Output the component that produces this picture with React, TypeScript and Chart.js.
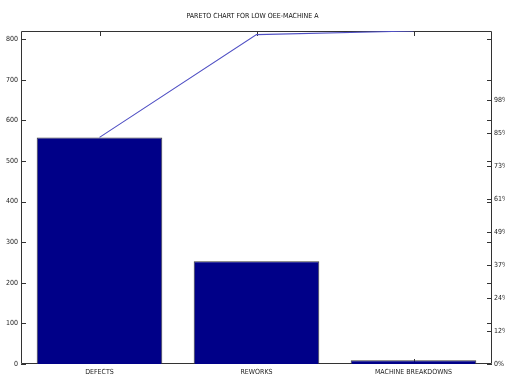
import React, { useEffect, useRef } from "react";
import { Chart, registerables } from "chart.js";

Chart.register(...registerables);

const categories = ["DEFECTS", "REWORKS", "MACHINE BREAKDOWNS"];
const counts = [558, 253, 9];
const cumulative = [558, 811, 820];
const countAxisMax = 820;
const countTicks = [0, 100, 200, 300, 400, 500, 600, 700, 800];
const pctAxisMax = 123;
const pctTickValues = [0, 12.2, 24.4, 36.6, 48.8, 61, 73.2, 85.4, 97.6];
const pctTickLabels = ["0%", "12%", "24%", "37%", "49%", "61%", "73%", "85%", "98%"];

const FONT = "'Liberation Sans Narrow', 'DejaVu Sans Condensed', 'Arial Narrow', sans-serif";
const AXIS_COLOR = "#333333";
const TICK_LEN = 5;

// Axes box with inward tick marks on all four sides, drawn beneath the data.
const boxTicks = {
  id: "boxTicks",
  beforeDatasetsDraw(chart: any) {
    const { ctx, chartArea: a, scales } = chart;
    const y = scales.y;
    const y2 = scales.y2;
    const x = scales.x;
    ctx.save();
    ctx.strokeStyle = AXIS_COLOR;
    ctx.lineWidth = 1;
    ctx.beginPath();
    ctx.rect(a.left + 0.5, a.top + 0.5, a.right - a.left - 1, a.bottom - a.top - 1);
    ctx.stroke();
    ctx.beginPath();
    for (const t of y.ticks) {
      const py = Math.round(y.getPixelForValue(t.value)) + 0.5;
      ctx.moveTo(a.left, py);
      ctx.lineTo(a.left + TICK_LEN, py);
      ctx.moveTo(a.right, py);
      ctx.lineTo(a.right - TICK_LEN, py);
    }
    for (const t of y2.ticks) {
      const py = Math.round(y2.getPixelForValue(t.value)) + 0.5;
      ctx.moveTo(a.right, py);
      ctx.lineTo(a.right - TICK_LEN, py);
    }
    x.ticks.forEach((_t: any, i: number) => {
      const px = Math.round(x.getPixelForTick(i)) + 0.5;
      ctx.moveTo(px, a.top);
      ctx.lineTo(px, a.top + TICK_LEN);
      ctx.moveTo(px, a.bottom);
      ctx.lineTo(px, a.bottom - TICK_LEN);
    });
    ctx.stroke();
    ctx.restore();
  },
};

export default function App() {
  const canvasRef = useRef<HTMLCanvasElement | null>(null);

  useEffect(() => {
    document.body.style.margin = "0";
    const canvas = canvasRef.current;
    if (!canvas) return;
    const chart = new Chart(canvas, {
      type: "bar",
      data: {
        labels: categories,
        datasets: [
          {
            type: "line",
            label: "Cumulative",
            data: cumulative,
            yAxisID: "y",
            borderColor: "#5050c4",
            borderWidth: 1.1,
            pointRadius: 0,
            fill: false,
            tension: 0,
            order: 0,
          } as any,
          {
            type: "bar",
            label: "Count",
            data: counts,
            yAxisID: "y",
            backgroundColor: "#000088",
            borderColor: "#3c3c3c",
            borderWidth: 1,
            categoryPercentage: 0.8,
            barPercentage: 1,
            order: 1,
          },
        ],
      },
      plugins: [boxTicks],
      options: {
        responsive: false,
        animation: false,
        layout: { padding: 0 },
        plugins: {
          legend: { display: false },
          tooltip: { enabled: false },
          title: {
            display: true,
            text: "PARETO CHART FOR LOW OEE-MACHINE A",
            color: "#111",
            font: { family: FONT, size: 7, weight: "normal", lineHeight: 1 },
            padding: { top: 13, bottom: 11 },
          },
        },
        scales: {
          x: {
            offset: true,
            grid: { display: false, drawTicks: false },
            border: { display: false },
            ticks: {
              color: "#222",
              padding: 4,
              maxRotation: 0,
              autoSkip: false,
              font: { family: FONT, size: 7 },
            },
            afterFit(scale: any) {
              scale.height = 14;
            },
          },
          y: {
            position: "left",
            min: 0,
            max: countAxisMax,
            grid: { display: false, drawTicks: false },
            border: { display: false },
            ticks: {
              color: "#222",
              padding: 3,
              font: { family: FONT, size: 7 },
            },
            afterBuildTicks(scale: any) {
              scale.ticks = countTicks.map((v) => ({ value: v }));
            },
            afterFit(scale: any) {
              scale.width = 21;
            },
          },
          y2: {
            position: "right",
            min: 0,
            max: pctAxisMax,
            grid: { display: false, drawTicks: false },
            border: { display: false },
            ticks: {
              color: "#222",
              padding: 2,
              font: { family: FONT, size: 7 },
              callback: (_v: any, i: number) => pctTickLabels[i],
            },
            afterBuildTicks(scale: any) {
              scale.ticks = pctTickValues.map((v) => ({ value: v }));
            },
            afterFit(scale: any) {
              scale.width = 13;
            },
          },
        },
      },
    });
    return () => chart.destroy();
  }, []);

  return (
    <div style={{ position: "absolute", left: 0, top: 0, width: 505, height: 378, background: "#fff" }}>
      <canvas ref={canvasRef} width={505} height={378} />
    </div>
  );
}
